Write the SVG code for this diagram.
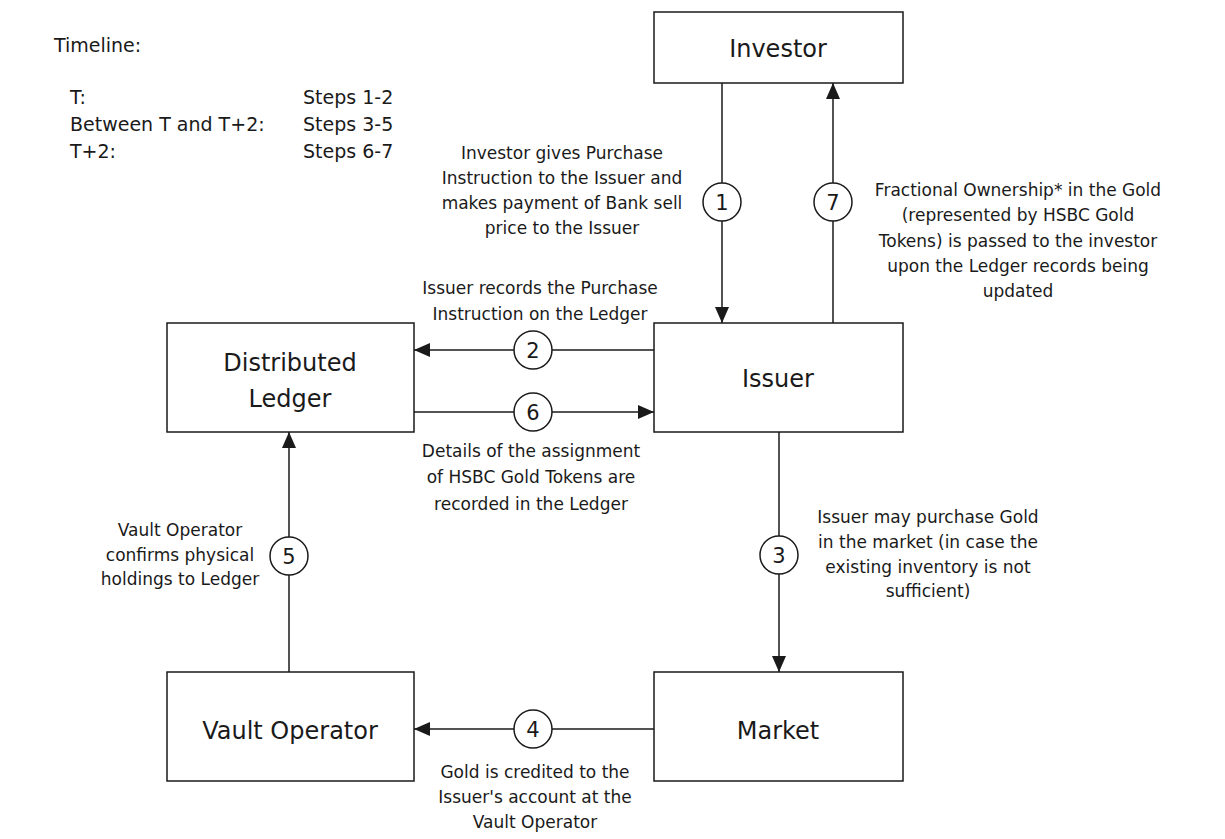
<svg xmlns="http://www.w3.org/2000/svg" width="1225" height="839" viewBox="0 0 1225 839">
<style>
  text { font-family: "DejaVu Sans", "Liberation Sans", sans-serif; fill: #1a1a1a; }
  .box { fill: #ffffff; stroke: #1a1a1a; stroke-width: 1.5; }
  .lbl { font-size: 24px; text-anchor: middle; }
  .note { font-size: 17px; text-anchor: middle; }
  .tl { font-size: 19px; }
  .edge { stroke: #1a1a1a; stroke-width: 1.5; fill: none; }
  .circ { fill: #ffffff; stroke: #1a1a1a; stroke-width: 1.5; }
  .num { font-size: 21px; text-anchor: middle; }
</style>
<defs>
  <marker id="arr" markerUnits="userSpaceOnUse" markerWidth="16" markerHeight="14" refX="16" refY="7" orient="auto">
    <path d="M0,0 L16,7 L0,14 Z" fill="#1a1a1a"/>
  </marker>
</defs>
<rect width="1225" height="839" fill="#ffffff"/>

<g id="timeline">
  <text class="tl" x="54" y="52">Timeline:</text>
  <text class="tl" x="70" y="104">T:</text>
  <text class="tl" x="303" y="104">Steps 1-2</text>
  <text class="tl" x="70" y="131">Between T and T+2:</text>
  <text class="tl" x="303" y="131">Steps 3-5</text>
  <text class="tl" x="70" y="158">T+2:</text>
  <text class="tl" x="303" y="158">Steps 6-7</text>
</g>

<g id="connectors">
  <line class="edge" x1="722" y1="83" x2="722" y2="323" marker-end="url(#arr)"/>
  <line class="edge" x1="833" y1="323" x2="833" y2="83" marker-end="url(#arr)"/>
  <line class="edge" x1="654" y1="350" x2="414" y2="350" marker-end="url(#arr)"/>
  <line class="edge" x1="414" y1="412" x2="654" y2="412" marker-end="url(#arr)"/>
  <line class="edge" x1="779" y1="432" x2="779" y2="672" marker-end="url(#arr)"/>
  <line class="edge" x1="654" y1="729" x2="414" y2="729" marker-end="url(#arr)"/>
  <line class="edge" x1="289" y1="672" x2="289" y2="432" marker-end="url(#arr)"/>

  <g id="step1">
    <circle class="circ" cx="722" cy="202" r="19"/>
    <text class="num" x="722" y="210">1</text>
    <text class="note" x="562" y="159">Investor gives Purchase</text>
    <text class="note" x="562" y="184">Instruction to the Issuer and</text>
    <text class="note" x="562" y="209">makes payment of Bank sell</text>
    <text class="note" x="562" y="234">price to the Issuer</text>
  </g>
  <g id="step7">
    <circle class="circ" cx="833" cy="202" r="19"/>
    <text class="num" x="833" y="210">7</text>
    <text class="note" x="1018" y="196">Fractional Ownership* in the Gold</text>
    <text class="note" x="1018" y="221">(represented by HSBC Gold</text>
    <text class="note" x="1018" y="247">Tokens) is passed to the investor</text>
    <text class="note" x="1018" y="272">upon the Ledger records being</text>
    <text class="note" x="1018" y="297">updated</text>
  </g>
  <g id="step2">
    <circle class="circ" cx="533" cy="350" r="19"/>
    <text class="num" x="533" y="358">2</text>
    <text class="note" x="540" y="294">Issuer records the Purchase</text>
    <text class="note" x="540" y="320">Instruction on the Ledger</text>
  </g>
  <g id="step6">
    <circle class="circ" cx="533" cy="412" r="19"/>
    <text class="num" x="533" y="420">6</text>
    <text class="note" x="531" y="457">Details of the assignment</text>
    <text class="note" x="531" y="483">of HSBC Gold Tokens are</text>
    <text class="note" x="531" y="510">recorded in the Ledger</text>
  </g>
  <g id="step3">
    <circle class="circ" cx="779" cy="555" r="19"/>
    <text class="num" x="779" y="563">3</text>
    <text class="note" x="928" y="523">Issuer may purchase Gold</text>
    <text class="note" x="928" y="548">in the market (in case the</text>
    <text class="note" x="928" y="573">existing inventory is not</text>
    <text class="note" x="928" y="597">sufficient)</text>
  </g>
  <g id="step4">
    <circle class="circ" cx="533" cy="729" r="19"/>
    <text class="num" x="533" y="737">4</text>
    <text class="note" x="535" y="778">Gold is credited to the</text>
    <text class="note" x="535" y="803">Issuer's account at the</text>
    <text class="note" x="535" y="828">Vault Operator</text>
  </g>
  <g id="step5">
    <circle class="circ" cx="289" cy="556" r="19"/>
    <text class="num" x="289" y="564">5</text>
    <text class="note" x="180" y="536">Vault Operator</text>
    <text class="note" x="180" y="561">confirms physical</text>
    <text class="note" x="180" y="585">holdings to Ledger</text>
  </g>
</g>

<g id="investor">
  <rect class="box" x="654" y="12" width="249" height="71"/>
  <text class="lbl" x="778" y="57">Investor</text>
</g>
<g id="issuer">
  <rect class="box" x="654" y="323" width="249" height="109"/>
  <text class="lbl" x="778" y="387">Issuer</text>
</g>
<g id="ledger">
  <rect class="box" x="167" y="323" width="247" height="109"/>
  <text class="lbl" x="290" y="371">Distributed</text>
  <text class="lbl" x="290" y="407">Ledger</text>
</g>
<g id="vault">
  <rect class="box" x="167" y="672" width="247" height="109"/>
  <text class="lbl" x="290" y="739">Vault Operator</text>
</g>
<g id="market">
  <rect class="box" x="654" y="672" width="249" height="109"/>
  <text class="lbl" x="778" y="739">Market</text>
</g>
</svg>
